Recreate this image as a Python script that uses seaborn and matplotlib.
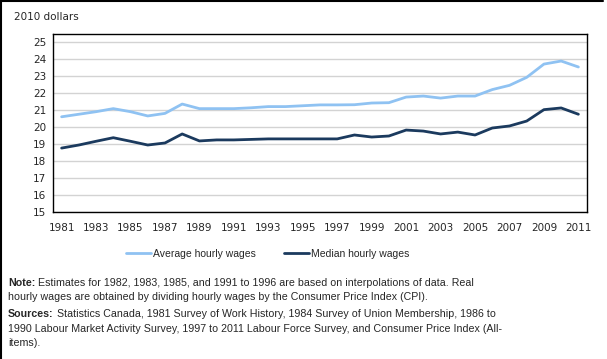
import matplotlib
matplotlib.use('Agg')

import matplotlib.pyplot as plt
import pandas as pd
import seaborn as sns
from matplotlib.lines import Line2D

years = list(range(1981, 2012))

average_wages = [20.6, 20.75, 20.9, 21.08, 20.9, 20.65, 20.8, 21.35, 21.08, 21.08,
                 21.08, 21.13, 21.2, 21.2, 21.25, 21.3, 21.3, 21.31, 21.41, 21.43,
                 21.76, 21.82, 21.7, 21.82, 21.82, 22.2, 22.45, 22.92, 23.7, 23.88,
                 23.53]

median_wages = [18.76, 18.94, 19.16, 19.37, 19.16, 18.94, 19.06, 19.59, 19.18, 19.24,
                19.24, 19.27, 19.3, 19.3, 19.3, 19.3, 19.3, 19.53, 19.41, 19.47,
                19.82, 19.76, 19.59, 19.7, 19.53, 19.94, 20.06, 20.35, 21.02, 21.12,
                20.75]

series_names = ["Average hourly wages", "Median hourly wages"]
series_colors = ["#8fc2f2", "#1b3a5e"]

note_lines = [
    ("Note:", " Estimates for 1982, 1983, 1985, and 1991 to 1996 are based on interpolations of data. Real"),
    (None, "hourly wages are obtained by dividing hourly wages by the Consumer Price Index (CPI)."),
    ("Sources:", " Statistics Canada, 1981 Survey of Work History, 1984 Survey of Union Membership, 1986 to"),
    (None, "1990 Labour Market Activity Survey, 1997 to 2011 Labour Force Survey, and Consumer Price Index (All-"),
    (None, "items)."),
]
note_y = [283, 297, 314, 329, 343]

df = pd.DataFrame({
    "year": years * 2,
    "wage": average_wages + median_wages,
    "series": [series_names[0]] * len(years) + [series_names[1]] * len(years),
})

sns.set_style("white")
plt.rcParams['font.family'] = ['DejaVu Sans']

fig = plt.figure(figsize=(6.07, 3.59), dpi=100)
ax = fig.add_axes([53 / 607, 1 - 212 / 359, 534 / 607, 178 / 359])

sns.lineplot(data=df, x="year", y="wage", hue="series", palette=series_colors,
             linewidth=2, ax=ax, legend=False)

ax.set_xlim(1980.5, 2011.5)
ax.set_ylim(15, 25.47)
ax.set_yticks(range(15, 26))
ax.yaxis.grid(True, color="#d3d3d3", linewidth=1)
ax.set_axisbelow(True)
ax.set_xlabel("")
ax.set_ylabel("")

# tick marks at category boundaries, labels on odd years
ax.set_xticks([y + 0.5 for y in years[:-1]])
ax.set_xticklabels([])
ax.set_xticks(years[::2], minor=True)
ax.set_xticklabels([str(y) for y in years[::2]], minor=True)
ax.tick_params(axis="x", which="major", length=4, width=1, color="black", direction="out")
ax.tick_params(axis="x", which="minor", length=0, labelsize=7.5, pad=8)
ax.tick_params(axis="y", length=0, labelsize=7.5, pad=5)

for s in ax.spines.values():
    s.set_color("black")
    s.set_linewidth(1)

fig.text(14 / 607, 1 - 17 / 359, "2010 dollars", fontsize=7.5, va="center", ha="left")

handles = [Line2D([0], [0], color=c, linewidth=2) for c in series_colors]
fig.legend(handles, series_names, loc="center", bbox_to_anchor=(267.5 / 607, 1 - 254 / 359),
           ncol=2, frameon=False, prop={"family": "Liberation Sans", "size": 7.5},
           handlelength=2.4, handletextpad=0.2, columnspacing=2.7)

# notes under the chart, bold lead word followed by plain text
note_size = 7.7
for (bold, rest), yp in zip(note_lines, note_y):
    if bold:
        t = fig.text(8 / 607, 1 - yp / 359, bold, family="Liberation Sans", size=note_size,
                     fontweight="bold", va="center")
        ax.annotate(rest, xy=(1, 0.5), xycoords=t, va="center", ha="left",
                    family="Liberation Sans", size=note_size, annotation_clip=False)
    else:
        fig.text(8 / 607, 1 - yp / 359, rest, family="Liberation Sans", size=note_size, va="center")

# outer frame on top and left edges
fig.add_artist(Line2D([0, 603 / 607], [1 - 0.5 / 359, 1 - 0.5 / 359], color="black", linewidth=1.5))
fig.add_artist(Line2D([0.5 / 607, 0.5 / 607], [0, 1], color="black", linewidth=1.5))

fig.savefig("out.png", dpi=100)
